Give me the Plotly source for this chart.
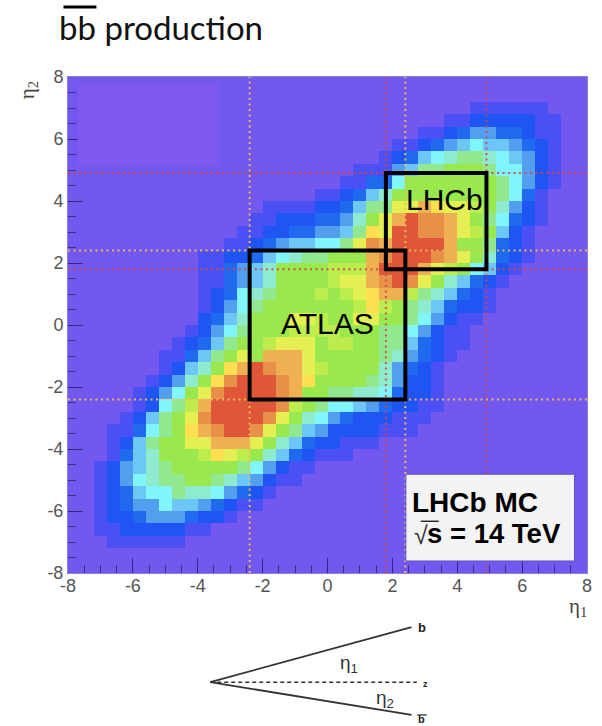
import plotly.graph_objects as go

# ---- data: 40 x 40 bins over [-8, 8]; colour level per bin ----
bin_centres_x = [-7.8 + 0.4 * i for i in range(40)]
bin_centres_y = [7.8 - 0.4 * j for j in range(40)]

# row number (from top) -> (first non-empty bin, levels)
row_data = {
    2: (31, [1,1,1,1,1,1]),
    3: (29, [1,1,2,2,2,2,2,1,1]),
    4: (27, [1,1,2,3,4,4,3,3,2,1,1]),
    5: (25, [1,1,2,3,4,5,6,5,5,4,3,2,1]),
    6: (24, [1,2,3,5,6,7,8,8,7,6,5,4,2,1]),
    7: (22, [1,1,1,4,5,8,8,9,9,9,8,6,6,4,2,1]),
    8: (21, [1,1,3,3,6,9,9,9,9,9,9,9,8,6,4,2,1]),
    9: (19, [1,1,2,3,5,7,9,9,9,9,9,9,9,9,8,6,3,1]),
    10: (15, [1,1,1,1,2,2,3,5,8,8,11,11,13,12,11,11,10,9,7,4,2,1]),
    11: (14, [1,1,2,2,2,3,3,4,7,9,11,13,15,14,14,13,11,9,8,6,3,2,1]),
    12: (13, [1,1,2,2,3,3,4,4,5,8,12,11,15,15,14,14,13,11,10,9,5,2,1]),
    13: (12, [1,1,2,3,4,5,5,6,6,8,11,14,13,15,15,15,15,13,9,9,8,3,2,1]),
    14: (10, [1,1,2,2,3,5,6,7,8,8,9,9,9,13,14,15,15,15,14,13,11,9,7,3,2,1]),
    15: (10, [1,1,3,4,5,7,9,9,9,9,10,10,10,13,15,15,15,13,11,10,9,6,5,2,1]),
    16: (10, [1,1,3,4,5,7,9,9,9,9,10,11,11,13,14,15,14,11,9,7,5,3,2,1]),
    17: (10, [1,2,3,6,7,8,9,9,9,10,9,10,11,12,13,13,10,8,7,5,3,2,1]),
    18: (10, [1,2,4,6,8,9,9,9,9,9,9,9,10,12,10,9,8,7,5,3,2,2,1]),
    19: (10, [2,3,5,7,9,9,9,11,11,10,9,9,11,11,9,9,8,6,4,2,1,1]),
    20: (9, [1,2,4,6,8,9,9,9,10,10,10,10,9,9,9,8,8,6,4,2,1,1]),
    21: (8, [1,2,3,5,8,9,9,10,11,11,11,9,10,10,9,9,8,8,5,3,2,1,1]),
    22: (7, [1,1,3,5,8,9,11,9,13,13,13,11,9,9,9,9,9,8,7,4,3,2,1]),
    23: (7, [1,2,5,7,9,12,13,15,14,13,13,11,10,9,9,9,9,7,4,3,2,1]),
    24: (6, [1,2,4,7,9,12,14,15,15,15,14,13,12,9,9,9,9,8,7,4,2,2,1]),
    25: (5, [1,2,4,6,9,11,14,15,15,15,15,14,13,9,9,8,8,7,7,6,3,2,2,1]),
    26: (5, [1,2,6,8,10,13,15,15,15,15,15,14,10,9,8,6,6,5,4,3,2,2,1,1]),
    27: (4, [1,2,5,8,9,11,14,15,15,15,15,14,11,9,7,6,4,3,2,2,2,1,1,1]),
    28: (3, [1,1,3,6,8,9,12,13,14,15,15,14,11,9,8,5,4,2,2,2,2,1,1,1]),
    29: (3, [1,2,5,8,9,9,11,11,13,13,13,11,9,7,5,3,2,2,1,1,1]),
    30: (3, [1,3,5,7,9,9,9,10,12,11,10,9,7,5,3,2,1,1,1]),
    31: (2, [1,2,4,5,7,8,9,9,9,9,9,8,6,4,2,1,1]),
    32: (2, [1,2,4,6,7,8,8,9,9,8,7,5,4,2,1,1]),
    33: (2, [1,2,3,5,6,6,8,7,7,6,4,3,2,1]),
    34: (2, [1,2,3,4,4,6,5,5,4,3,2,1,1]),
    35: (2, [1,2,2,3,4,4,4,3,2,2,1]),
    36: (2, [1,1,2,2,2,2,2,1,1]),
    37: (3, [1,1,1,1,1,1]),
}

level_colors = ["#7358ef", "#4b50f4", "#1f55f2", "#1f6aef", "#529ff0", "#6cc6f6",
                "#80f5fc", "#8eebcf", "#91e88e", "#98e84e", "#bdec4d", "#e6ef52",
                "#fddf4f", "#eeb050", "#e69048", "#df5638"]

tick_values = [-8, -6, -4, -2, 0, 2, 4, 6, 8]
tick_labels = ["-8", "-6", "-4", "-2", "0", "2", "4", "6", "8"]

atlas_range = [-2.4, 2.4]
lhcb_range = [1.8, 4.9]

# ---- build ----
z = []
for j in range(40):
    row = [0] * 40
    if j in row_data:
        start, vals = row_data[j]
        row[start:start + len(vals)] = vals
    z.append(row)

n = len(level_colors)
colorscale = []
for k, c in enumerate(level_colors):
    colorscale += [[k / n, c], [(k + 1) / n, c]]

# page pixels -> paper fractions (plot area in the page)
L, R, T, B = 67.5, 587.5, 77.3, 572.7
px = lambda x: (x - L) / (R - L)
py = lambda y: 1 - (y - T) / (B - T)

fig = go.Figure()
fig.add_trace(go.Heatmap(x=bin_centres_x, y=bin_centres_y, z=z, zmin=-0.5, zmax=n - 0.5,
                         colorscale=colorscale, showscale=False, hoverinfo="skip"))

def guide(vals, color):
    for v in vals:
        fig.add_trace(go.Scatter(x=[v, v], y=[-8, 8], mode="lines", hoverinfo="skip", showlegend=False,
                                 line=dict(color=color, width=2, dash="2px,3.5px")))
        fig.add_trace(go.Scatter(x=[-8, 8], y=[v, v], mode="lines", hoverinfo="skip", showlegend=False,
                                 line=dict(color=color, width=2, dash="2px,3.5px")))

guide(lhcb_range, "rgba(205,70,80,0.9)")
guide(atlas_range, "rgba(240,190,90,0.95)")

shapes = []
# faint lighter patch top-left
shapes.append(dict(type="rect", xref="x", yref="y", x0=-7.7, x1=-3.34, y0=5.13, y1=7.78,
                   line=dict(width=0), fillcolor="#7f58ef", layer="above"))
for rng in (atlas_range, lhcb_range):
    shapes.append(dict(type="rect", xref="x", yref="y", x0=rng[0], x1=rng[1], y0=rng[0], y1=rng[1],
                       line=dict(color="black", width=4), layer="above"))
# info box
shapes.append(dict(type="rect", xref="paper", yref="paper", x0=px(406), x1=px(575), y0=py(560.7), y1=py(474),
                   line=dict(color="#5a50c0", width=1), fillcolor="#f3f3f3", layer="above"))
def seg(x0, y0, x1, y1, color="#333", width=2, dash=None):
    shapes.append(dict(type="line", xref="paper", yref="paper", x0=px(x0), y0=py(y0), x1=px(x1), y1=py(y1),
                       line=dict(color=color, width=width, dash=dash), layer="above"))
seg(421, 521, 439, 521, "black", 1.2)            # sqrt bar
seg(63, 7.5, 96, 7.5, "black", 3)                # title overline
seg(210, 681.7, 411.7, 626.7, "#333", 1.8)       # b
seg(210, 681.7, 411.7, 714.3, "#333", 1.8)       # b-bar
seg(210, 681.7, 417, 681.7, "#333", 1.5, "4px,3px")  # z
seg(417.5, 714.5, 427, 714.5, "#333", 1.3)       # label bar

def text(x, y, s, size, color="black", family="Liberation Sans", anchor="center", angle=0):
    return dict(xref="paper", yref="paper", x=px(x), y=py(y), text=s, showarrow=False, xanchor=anchor,
                yanchor="middle", textangle=angle, font=dict(size=size, color=color, family=family))

annotations = [
    text(56, 27, "bb production", 33, "#111", "Lato", "left"),
    text(328, 324, "ATLAS", 30),
    text(444.7, 200, "LHCb", 30),
    text(410, 502, "<b>LHCb MC</b>", 28, anchor="left"),
    text(412, 535, "√", 25, "#333", anchor="left"),
    text(425, 533, "<b>s = 14 TeV</b>", 27.5, anchor="left"),
    text(578, 607, "η<sub>1</sub>", 21, "#444", "Liberation Serif"),
    text(27, 91, "η<sub>2</sub>", 21, "#444", "Liberation Serif", angle=-90),
    text(422, 627, "<b>b</b>", 13, "#222"),
    text(426, 684, "<b>z</b>", 9, "#222"),
    text(422, 718.5, "<b>b</b>", 11, "#222"),
    text(349, 664, "η<sub>1</sub>", 19, "#333"),
    text(385, 699, "η<sub>2</sub>", 19, "#333"),
]

def axis(standoff):
    return dict(range=[-8, 8], tickmode="array", tickvals=tick_values, ticktext=tick_labels,
                ticks="inside", ticklen=15, tickwidth=1.3, tickcolor="rgba(40,40,120,0.85)",
                ticklabelstandoff=standoff, showgrid=False, zeroline=False,
                showline=True, linecolor="#8a80d8", linewidth=1, mirror=True,
                tickfont=dict(size=18, color="#555", family="Liberation Sans"),
                minor=dict(ticks="inside", ticklen=8, tickwidth=1.3, tickcolor="rgba(40,40,120,0.85)",
                           tick0=0, dtick=0.5, showgrid=False))

fig.update_layout(width=602, height=726, paper_bgcolor="white", plot_bgcolor="#7358ef", showlegend=False,
                  margin=dict(l=L, r=602 - R, t=T, b=726 - B, autoexpand=False),
                  xaxis=axis(-4), yaxis=axis(0), shapes=shapes, annotations=annotations)

fig.write_html("out.html", config=dict(displayModeBar=False),
               post_script="document.body.style.margin='0';document.documentElement.style.overflow='hidden';")
